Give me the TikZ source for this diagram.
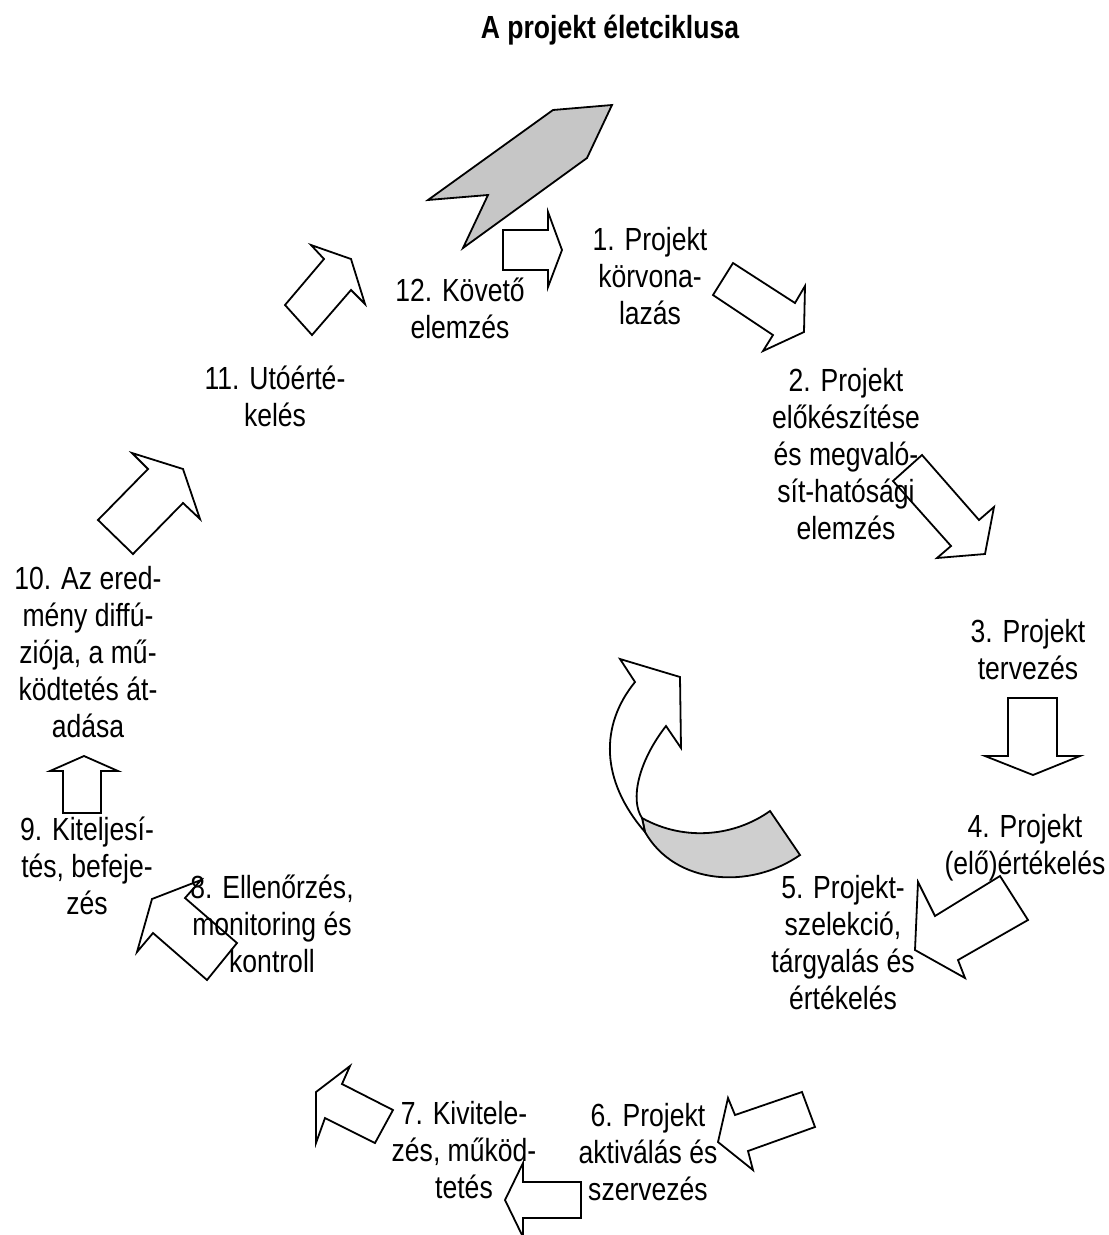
\documentclass[tikz,border=0pt]{standalone}
\usepackage{fontspec}
\setmainfont{Liberation Sans}[FakeStretch=0.83]
\begin{document}
\begin{tikzpicture}[x=1pt,y=-1pt,
  lbl/.style={align=center,inner sep=0pt,font=\fontsize{32}{37}\selectfont},
  blk/.style={draw=black,line width=1.8pt,line join=miter,fill=white},
  gblk/.style={draw=black,line width=1.8pt,line join=miter,fill=gray!45}]
\useasboundingbox (0,0) rectangle (1109,1235);
% title
\node[lbl,font=\fontsize{32}{37}\selectfont\bfseries] (title) at (610,30) {A projekt életciklusa};
% labels
\node[lbl] (l1) at (650,276) {1. Projekt\\körvona-\\lazás};
\node[lbl] (l2) at (846,454) {2. Projekt\\előkészítése\\és megvaló-\\sít-hatósági\\elemzés};
\node[lbl] (l3) at (1028,650) {3. Projekt\\tervezés};
\node[lbl] (l4) at (1025,848) {4. Projekt\\(elő)értékelés};
\node[lbl] (l5) at (843,943) {5. Projekt-\\szelekció,\\tárgyalás és\\értékelés};
\node[lbl] (l6) at (648,1152) {6. Projekt\\aktiválás és\\szervezés};
\node[lbl] (l7) at (464,1150) {7. Kivitele-\\zés, működ-\\tetés};
\node[lbl] (l8) at (272,924) {8. Ellenőrzés,\\monitoring és\\kontroll};
\node[lbl] (l9) at (87,866) {9. Kiteljesí-\\tés, befeje-\\zés};
\node[lbl] (l10) at (88,652) {10. Az ered-\\mény diffú-\\ziója, a mű-\\ködtetés át-\\adása};
\node[lbl] (l11) at (275,396) {11. Utóérté-\\kelés};
\node[lbl] (l12) at (460,308) {12. Követő\\elemzés};
% big gray arrow at top
\draw[gblk] (428,200) -- (553,110) -- (612,105) -- (587,158) -- (463,248) -- (488,195) -- cycle;
% 12 -> 1
\draw[blk] (503,230) -- (548,230) -- (548,212) -- (562,250) -- (548,287) -- (548,270) -- (503,270) -- cycle;
% 1 -> 2
\draw[blk] (733,263) -- (795,303) -- (805,286) -- (804,332) -- (763,351) -- (773,335) -- (713,295) -- cycle;
% 2 -> 3
\draw[blk,fill=none] (922,455) -- (979,520) -- (994,507) -- (985,554) -- (937,558) -- (951,546) -- (893,481) -- cycle;
% 3 -> 4
\draw[blk] (1008,698) -- (1057,698) -- (1057,756) -- (1080,756) -- (1033,775) -- (985,756) -- (1008,756) -- cycle;
% 4 -> 5
\draw[blk] (1000,876) -- (1028,920) -- (958,960) -- (965,978) -- (915,950) -- (918,882) -- (935,916) -- cycle;
% 5 -> 6
\draw[blk] (802,1092) -- (815,1127) -- (748,1151) -- (753,1170) -- (718,1142) -- (728,1098) -- (735,1115) -- cycle;
% 6 -> 7
\draw[blk] (581,1182) -- (523,1182) -- (523,1163) -- (505,1200) -- (523,1237) -- (523,1218) -- (581,1218) -- cycle;
% 7 -> 8
\draw[blk] (350,1066) -- (342,1084) -- (393,1110) -- (375,1143) -- (325,1118) -- (316,1143) -- (316,1092) -- cycle;
% 8 -> 9
\draw[blk,fill=none] (201,880) -- (152,899) -- (137,952) -- (153,933) -- (207,980) -- (237,943) -- (185,898) -- cycle;
% 9 -> 10
\draw[blk] (63,813) -- (63,771) -- (50,771) -- (84,756) -- (118,771) -- (101,771) -- (101,813) -- cycle;
% 10 -> 11
\draw[blk] (132,453) -- (183,469) -- (200,519) -- (183,503) -- (133,554) -- (98,520) -- (148,469) -- cycle;
% 11 -> 12
\draw[blk] (311,245) -- (351,259) -- (365,304) -- (351,290) -- (312,335) -- (285,305) -- (324,259) -- cycle;
% curved arrow in the middle
\draw[gblk,fill=gray!38] (642,818) .. controls (685,842) and (735,836) .. (770,811) -- (800,855)
   .. controls (750,890) and (675,885) .. (645,832) -- cycle;
\draw[blk] (635,682) -- (620,659) -- (680,677) -- (681,748) -- (666,726)
   .. controls (638,762) and (630,800) .. (642,818) -- (645,832)
   .. controls (600,780) and (600,725) .. cycle;
\end{tikzpicture}
\end{document}
